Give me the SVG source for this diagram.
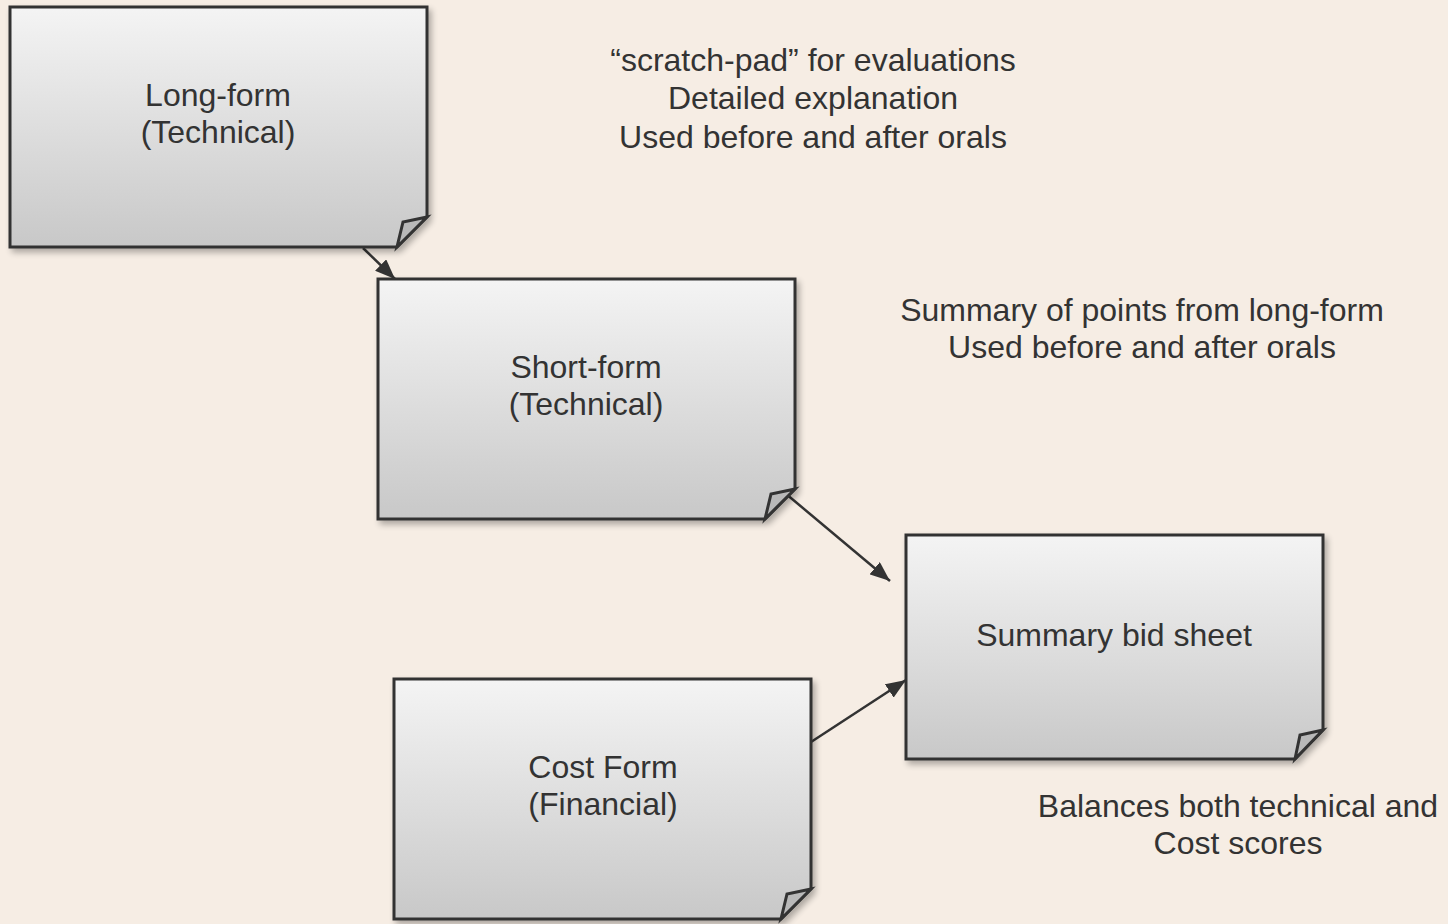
<svg xmlns="http://www.w3.org/2000/svg" width="1448" height="924" viewBox="0 0 1448 924">
  <style>
    .t { font-family: "Liberation Sans", Arial, sans-serif; font-size: 32px; fill: #333333; text-anchor: middle; }
    .note { fill: url(#paper); stroke: #333333; stroke-width: 3; stroke-linejoin: miter; filter: url(#shadow); }
    .fold { fill: #b9b9b9; stroke: #333333; stroke-width: 3; stroke-linejoin: miter; }
    .conn { stroke: #333333; stroke-width: 2.5; fill: none; marker-end: url(#arrowhead); }
  </style>
  <defs>
    <linearGradient id="paper" x1="0" y1="0" x2="0" y2="1">
      <stop offset="0" stop-color="#f4f4f4"/>
      <stop offset="1" stop-color="#c8c8c8"/>
    </linearGradient>
    <filter id="shadow" x="-10%" y="-10%" width="125%" height="130%">
      <feGaussianBlur in="SourceAlpha" stdDeviation="3"/>
      <feOffset dx="3" dy="4" result="b"/>
      <feComponentTransfer><feFuncA type="linear" slope="0.3"/></feComponentTransfer>
      <feMerge><feMergeNode/><feMergeNode in="SourceGraphic"/></feMerge>
    </filter>
    <marker id="arrowhead" viewBox="0 0 20 16" refX="20" refY="8" markerWidth="20" markerHeight="16" markerUnits="userSpaceOnUse" orient="auto">
      <path d="M0,0 L20,8 L0,16 z" fill="#333333"/>
    </marker>
  </defs>

  <rect width="1448" height="924" fill="#f6ede4"/>

  <!-- connectors -->
  <g id="connectors">
    <line class="conn" x1="363" y1="248" x2="395" y2="279"/>
    <line class="conn" x1="779" y1="488" x2="890" y2="581"/>
    <line class="conn" x1="811" y1="742" x2="906" y2="680"/>
  </g>

  <!-- sticky notes -->
  <g id="long-form">
    <path class="note" d="M10,7 H427 V217 L397,247 H10 Z"/>
    <path class="fold" d="M427,217 L403,222 L397,247 Z"/>
    <text class="t" x="218" y="106">Long-form</text>
    <text class="t" x="218" y="143">(Technical)</text>
  </g>

  <g id="short-form">
    <path class="note" d="M378,279 H795 V489 L765,519 H378 Z"/>
    <path class="fold" d="M795,489 L771,494 L765,519 Z"/>
    <text class="t" x="586" y="378">Short-form</text>
    <text class="t" x="586" y="415">(Technical)</text>
  </g>

  <g id="summary-bid-sheet">
    <path class="note" d="M906,535 H1323 V730 L1295,759 H906 Z"/>
    <path class="fold" d="M1323,730 L1300,735 L1295,759 Z"/>
    <text class="t" x="1114" y="646">Summary bid sheet</text>
  </g>

  <g id="cost-form">
    <path class="note" d="M394,679 H811 V889 L781,919 H394 Z"/>
    <path class="fold" d="M811,889 L787,894 L781,919 Z"/>
    <text class="t" x="603" y="778">Cost Form</text>
    <text class="t" x="603" y="815">(Financial)</text>
  </g>

  <!-- annotations -->
  <g id="note-long-form">
    <text class="t" x="813" y="71">“scratch-pad” for evaluations</text>
    <text class="t" x="813" y="109">Detailed explanation</text>
    <text class="t" x="813" y="148">Used before and after orals</text>
  </g>
  <g id="note-short-form">
    <text class="t" x="1142" y="321">Summary of points from long-form</text>
    <text class="t" x="1142" y="358">Used before and after orals</text>
  </g>
  <g id="note-summary">
    <text class="t" x="1238" y="817">Balances both technical and</text>
    <text class="t" x="1238" y="854">Cost scores</text>
  </g>
</svg>
